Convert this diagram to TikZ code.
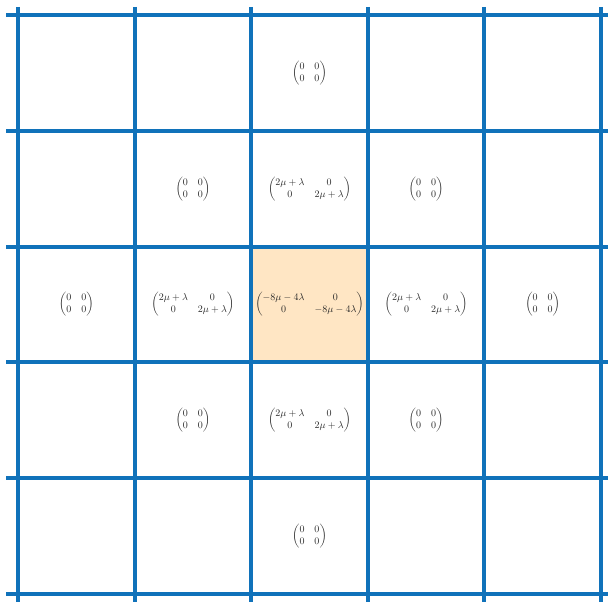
\documentclass[tikz,border=0pt]{standalone}
\usepackage{amsmath}
\definecolor{gridblue}{RGB}{16,114,186}
\definecolor{cellfill}{RGB}{255,230,196}
\begin{document}
\begin{tikzpicture}[x=1pt,y=-1pt,
  gridline/.style={draw=gridblue,line width=4pt},
  entry/.style={inner sep=0pt,text=black!85}]
\useasboundingbox (0,0) rectangle (608,602);
\def\xa{18}\def\xb{134.6}\def\xc{251.2}\def\xd{367.8}\def\xe{484.4}\def\xf{601}
\def\ya{15}\def\yb{130.8}\def\yc{246.6}\def\yd{362.4}\def\ye{478.2}\def\yf{594}
\fill[cellfill] (\xc,\yc) rectangle (\xd,\yd);
\foreach \x in {\xa,\xb,\xc,\xd,\xe,\xf} \draw[gridline] (\x,7) -- (\x,602);
\foreach \y in {\ya,\yb,\yc,\yd,\ye,\yf} \draw[gridline] (6,\y) -- (608,\y);
\def\Z{$\begin{pmatrix}0&0\\0&0\end{pmatrix}$}
\def\A{$\begin{pmatrix}2\mu+\lambda&0\\0&2\mu+\lambda\end{pmatrix}$}
\node[entry] (r0c2) at (309.5,72.9) {\Z};
\node[entry] (r1c1) at (192.9,188.7) {\Z};
\node[entry] (r1c2) at (309.5,188.7) {\A};
\node[entry] (r1c3) at (426.1,188.7) {\Z};
\node[entry] (r2c0) at (76.3,304.5) {\Z};
\node[entry] (r2c1) at (192.9,304.5) {\A};
\node[entry] (r2c2) at (309.5,304.5) {$\begin{pmatrix}-8\mu-4\lambda&0\\0&-8\mu-4\lambda\end{pmatrix}$};
\node[entry] (r2c3) at (426.1,304.5) {\A};
\node[entry] (r2c4) at (542.7,304.5) {\Z};
\node[entry] (r3c1) at (192.9,420.3) {\Z};
\node[entry] (r3c2) at (309.5,420.3) {\A};
\node[entry] (r3c3) at (426.1,420.3) {\Z};
\node[entry] (r4c2) at (309.5,536.1) {\Z};
\end{tikzpicture}
\end{document}
